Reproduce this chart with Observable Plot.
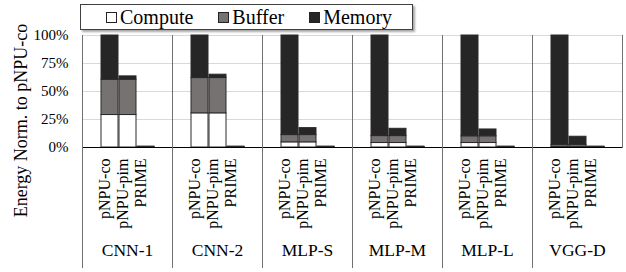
<!DOCTYPE html>
<html><head><meta charset="utf-8">
<script src="https://cdn.jsdelivr.net/npm/d3@7"></script>
<script src="https://cdn.jsdelivr.net/npm/@observablehq/plot@0.6"></script>
<style>
body{margin:0;background:#fff;font-family:"Liberation Serif","Times New Roman",serif;}
#wrap{width:626px;height:272px;overflow:hidden}
#legend{height:32px;position:relative}
#legend .box{position:absolute;left:80px;top:4px;width:333px;height:26px;box-sizing:border-box;border:1px solid #404040;box-shadow:2px 2px 2px rgba(0,0,0,.35);display:flex;align-items:center;padding-left:25px;gap:25px;font-size:20px;color:#000;background:#fff}
.item{display:flex;align-items:center;line-height:1}
.sw{width:11px;height:11px;box-sizing:border-box;border:1px solid #222;margin-right:3px}
#chart svg, #chart svg text{font-family:"Liberation Serif","Times New Roman",serif !important}
</style></head><body>
<div id="wrap"><div id="legend"><div class="box" id="lb"></div></div><div id="chart"></div></div>
<script>
const groups = ["CNN-1","CNN-2","MLP-S","MLP-M","MLP-L","VGG-D"];
const methods = ["pNPU-co","pNPU-pim","PRIME"];
const components = ["Compute","Buffer","Memory"];
const colors = ["#ffffff","#777272","#262626"];
const yTicks = [0,25,50,75,100];
const yTitle = "Energy Norm. to pNPU-co";
// per group: [pNPU-co, pNPU-pim, PRIME], percent
const compute = [[29,29,0.1],[30.5,30.5,0.1],[4.6,4.6,0.1],[4,4,0.1],[4,4,0.1],[0.6,0.6,0.1]];
const buffer  = [[31.5,31.5,0.2],[31.5,31.5,0.2],[6.5,6.5,0.2],[6.2,6.2,0.2],[6,6,0.2],[1.8,1.8,0.2]];
const memory  = [[39.5,3,0.5],[38,3,0.5],[88.9,6.2,0.5],[89.8,6.5,0.5],[90,6.1,0.5],[97.6,7.2,0.5]];

const series = [compute, buffer, memory];
const rows = groups.flatMap((g,i)=>methods.flatMap((m,j)=>components.map((c,k)=>({group:g, method:m, component:c, value:series[k][i][j]}))));
const labelRows = groups.flatMap(g=>methods.map(m=>({group:g, method:m})));

const lb = document.getElementById("lb");
components.forEach((c,k)=>{
  const it = document.createElement("div"); it.className="item";
  const sw = document.createElement("span"); sw.className="sw"; sw.style.background=colors[k];
  const tx = document.createElement("span"); tx.textContent=c;
  it.append(sw,tx); lb.append(it);
});

const serif = "Liberation Serif";
const chart = Plot.plot({
  width: 626, height: 240,
  marginTop: 3, marginBottom: 125, marginLeft: 82, marginRight: 4,
  style: {fontFamily: serif, color: "#000", background: "#fff", overflow: "visible"},
  fx: {domain: groups, padding: 0, axis: null},
  x: {domain: methods, paddingInner: 0.06, paddingOuter: 1, axis: null},
  y: {domain: [0,100], axis: null},
  color: {domain: components, range: colors},
  marks: [
    Plot.gridY(yTicks.filter(d=>d>0), {stroke: "#d9d9d9", strokeOpacity: 1}),
    Plot.barY(rows, {fx: "group", x: "method", y: "value", fill: "component", stroke: "#2a2a2a", strokeWidth: 1}),
    Plot.ruleY([0], {stroke: "#000"}),
    Plot.frame({anchor: "left", stroke: "#707070", insetBottom: -120}),
    Plot.frame({anchor: "right", stroke: "#707070"}),
    Plot.axisY({ticks: yTicks, tickFormat: d => d + "%", tickSize: 0, tickPadding: 14, fontSize: 15, fontFamily: serif, label: null}),
    Plot.text(labelRows, {fx: "group", x: "method", text: "method", rotate: -90, frameAnchor: "bottom", textAnchor: "end", dy: 11, fontSize: 16, fontFamily: serif}),
    Plot.text(groups, {fx: d => d, text: d => d, frameAnchor: "bottom", dy: 108, fontSize: 17.5, fontFamily: serif}),
    Plot.text([yTitle], {fx: () => groups[0], text: d => d, frameAnchor: "left", textAnchor: "middle", rotate: -90, dx: -61, dy: 29, fontSize: 18, fontFamily: serif})
  ]
});
document.getElementById("chart").append(chart);
</script>
</body></html>
